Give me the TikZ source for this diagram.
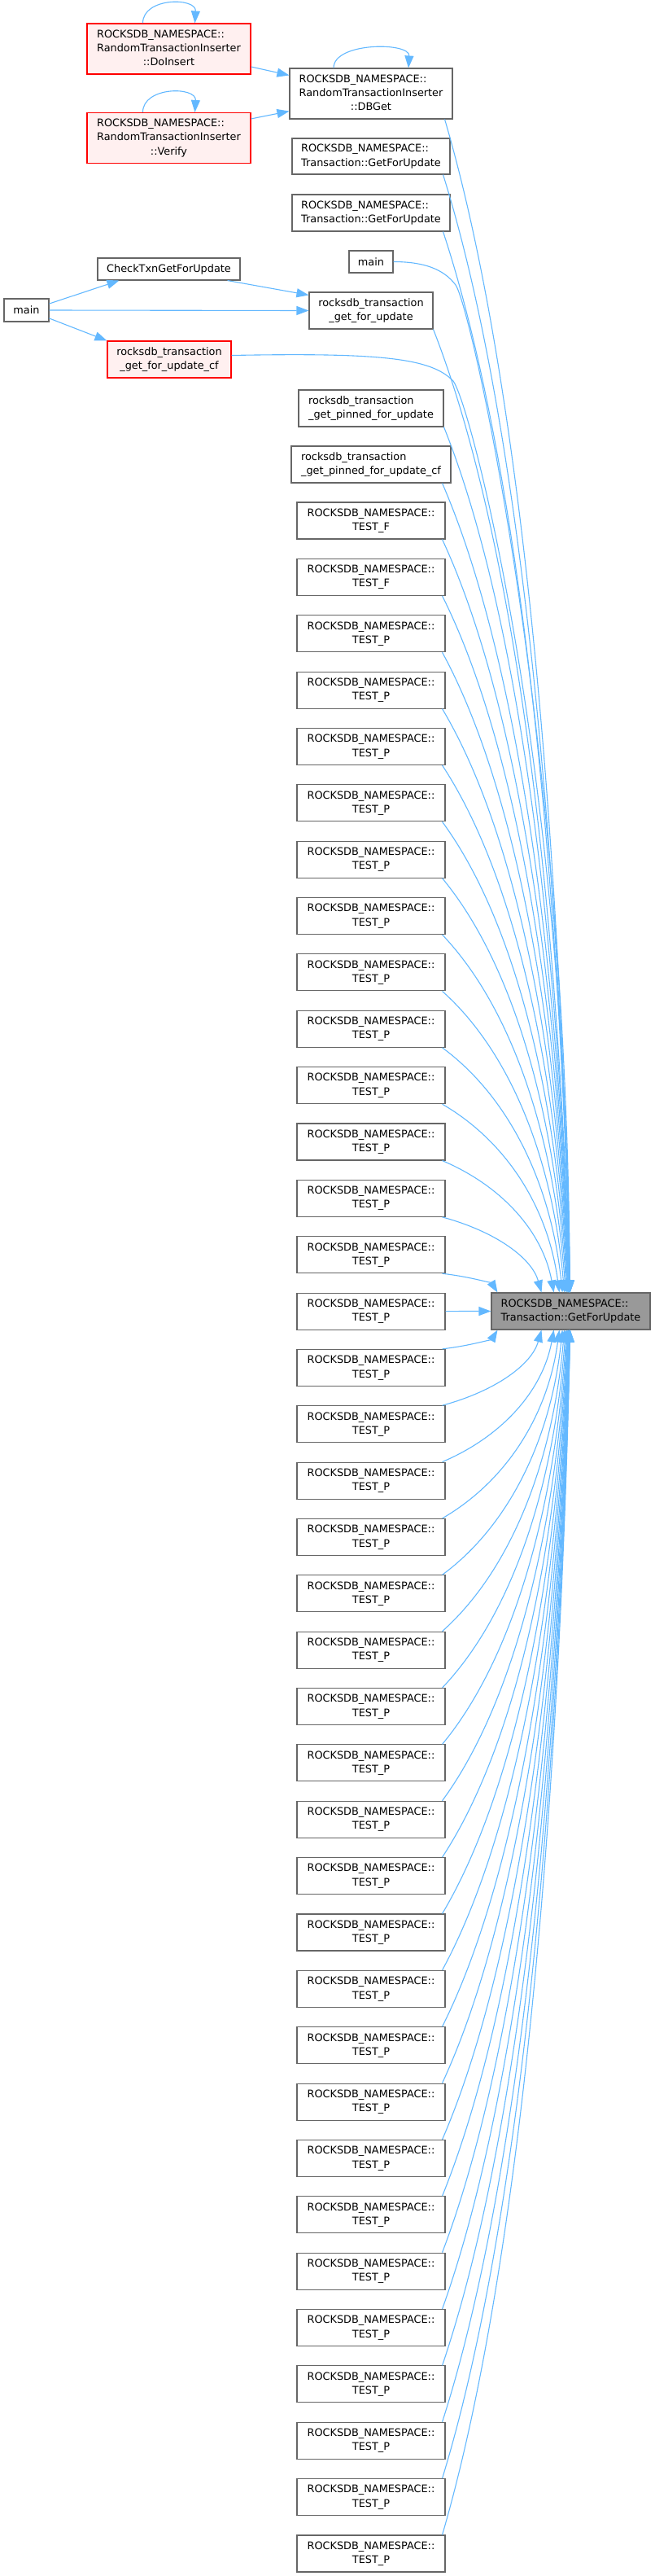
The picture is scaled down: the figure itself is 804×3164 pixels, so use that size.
\documentclass[tikz,border=0pt]{standalone}
\usepackage{fontspec}
\setmainfont{DejaVu Sans}
\usetikzlibrary{arrows.meta}

\definecolor{edgeblue}{HTML}{63B8FF}
\definecolor{grey40}{HTML}{666666}
\definecolor{grey60}{HTML}{999999}
\definecolor{redfill}{HTML}{FFF0F0}

% etichette: righe allineate a sinistra, ultima centrata
\newcommand{\twol}[2]{\begin{tabular}{@{}l@{}}#1\\\multicolumn{1}{@{}c@{}}{#2}\end{tabular}}
\newcommand{\threel}[3]{\begin{tabular}{@{}l@{}}#1\\#2\\\multicolumn{1}{@{}c@{}}{#3}\end{tabular}}

% ventaglio verso il nodo centrale (dall'alto / dal basso)
\newcommand{\fanin}[4]{%
  \pgfmathsetmacro\fxe{703-91/pow(#4,1.3)}%
  \pgfmathsetmacro\fex{\fxe-604}%
  \pgfmathsetmacro\fw{\fxe-#2}%
  \pgfmathsetmacro\fD{1588-#3}%
  \draw[edge] #1 .. controls ({#2+0.55*\fw},{#3+0.2*\fD}) and ({\fxe-0.1*\fw},{1588-0.45*\fD}) .. ([xshift=\fex pt]getforupdate.north west);}
\newcommand{\fanout}[4]{%
  \pgfmathsetmacro\fxe{703-91/pow(#4,1.3)}%
  \pgfmathsetmacro\fex{\fxe-604}%
  \pgfmathsetmacro\fw{\fxe-#2}%
  \pgfmathsetmacro\fD{#3-1633}%
  \draw[edge] #1 .. controls ({#2+0.55*\fw},{#3-0.2*\fD}) and ({\fxe-0.1*\fw},{1633+0.45*\fD}) .. ([xshift=\fex pt]getforupdate.south west);}

\begin{document}
\begin{tikzpicture}[
    x=1pt, y=-1pt,
    font=\fontsize{12.85}{17.3}\selectfont,
    fn/.style={draw=grey40, fill=white, line width=1.1pt, inner sep=0pt, minimum height=45pt},
    fnred/.style={fn, draw=red, fill=redfill},
    fnsel/.style={fn, fill=grey60},
    edge/.style={draw=edgeblue, line width=1.1pt, -{Triangle[length=15pt,width=11pt]}},
  ]
  \useasboundingbox (0,0) rectangle (804,3164);

  % --- colonna sinistra ---
  \node[fnred, minimum width=201pt, minimum height=62pt] (doinsert) at (207.5,60)
       {\threel{ROCKSDB\_NAMESPACE::}{RandomTransactionInserter}{::DoInsert}};
  \node[fnred, minimum width=201pt, minimum height=62pt] (verify) at (207.5,169.5)
       {\threel{ROCKSDB\_NAMESPACE::}{RandomTransactionInserter}{::Verify}};
  \node[fn, minimum width=175pt, minimum height=27pt] (checktxn) at (207.5,330.5) {CheckTxnGetForUpdate};
  \node[fn, minimum width=55pt, minimum height=28pt] (mainl) at (32.5,381) {main};
  \node[fnred, minimum width=152pt] (cgfucf) at (208,441.5)
       {\twol{rocksdb\_transaction}{\_get\_for\_update\_cf}};

  % --- colonna dei chiamanti ---
  \node[fn, minimum width=200pt, minimum height=62pt] (dbget) at (456,115)
       {\threel{ROCKSDB\_NAMESPACE::}{RandomTransactionInserter}{::DBGet}};
  \node[fn, minimum width=194pt, minimum height=44pt] (txngfu1) at (456,192)
       {\twol{ROCKSDB\_NAMESPACE::}{Transaction::GetForUpdate}};
  \node[fn, minimum width=194pt] (txngfu2) at (456,261.5)
       {\twol{ROCKSDB\_NAMESPACE::}{Transaction::GetForUpdate}};
  \node[fn, minimum width=54pt, minimum height=27pt] (mainr) at (456,321.5) {main};
  \node[fn, minimum width=152pt] (cgfu) at (456,381.5)
       {\twol{rocksdb\_transaction}{\_get\_for\_update}};
  \node[fn, minimum width=178pt] (cpinned) at (456,501.5)
       {\twol{rocksdb\_transaction}{\_get\_pinned\_for\_update}};
  \node[fn, minimum width=196pt] (cpinnedcf) at (456,570.5)
       {\twol{rocksdb\_transaction}{\_get\_pinned\_for\_update\_cf}};
  \foreach \row in {0,...,36}{
    \pgfmathsetmacro\yrow{639.5+69.36*\row}
    \ifnum\row<2 \def\tst{TEST\_F}\else\def\tst{TEST\_P}\fi
    \node[fn, minimum width=182pt] (t\row) at (456,\yrow)
         {\twol{ROCKSDB\_NAMESPACE::}{\tst}};
  }

  % --- nodo selezionato ---
  \node[fnsel, minimum width=195pt] (getforupdate) at (701.5,1610.5)
       {\twol{ROCKSDB\_NAMESPACE::}{Transaction::GetForUpdate}};

  % --- archi a sinistra e anelli ---
  \draw[edge] ([xshift=-32pt]doinsert.north) .. controls +(0,-32) and +(2,-32) .. ([xshift=32pt]doinsert.north);
  \draw[edge] ([xshift=-32pt]verify.north) .. controls +(0,-32) and +(2,-32) .. ([xshift=32pt]verify.north);
  \draw[edge] ([xshift=-46pt]dbget.north) .. controls +(0,-32) and +(2,-32) .. ([xshift=46pt]dbget.north);
  \draw[edge] ([yshift=-22pt]doinsert.east) -- ([yshift=-9pt]dbget.north west);
  \draw[edge] ([yshift=-8pt]verify.north east) -- ([yshift=10pt]dbget.south west);
  \draw[edge] ([yshift=8pt]mainl.east) -- ([xshift=27pt]checktxn.south west);
  \draw[edge] (mainl.east) -- (cgfu.west);
  \draw[edge] ([yshift=-10pt]mainl.east) -- (cgfucf.north west);
  \draw[edge] ([xshift=-16pt]checktxn.south east) -- ([yshift=-4pt]cgfu.north west);

  % --- ventaglio dall'alto ---
  \fanin{([xshift=-10pt]dbget.south east)}{546}{146}{22}
  \fanin{([xshift=-9pt]txngfu1.south east)}{544}{214}{21}
  \fanin{([xshift=-9pt]txngfu2.south east)}{544}{284}{20}
  \draw[edge] (mainr.east) .. controls (520,321.5) and (545,330) .. (560,350)
     .. controls (580,380) and (696,900) .. ([xshift=97pt]getforupdate.north west);
  \fanin{(cgfu.south east)}{532}{404}{18}
  \draw[edge] ([yshift=5pt]cgfucf.east) .. controls (470,433) and (530,440) .. (557,468)
     .. controls (580,500) and (695,950) .. ([xshift=96.7pt]getforupdate.north west);
  \fanin{(cpinned.south east)}{545}{524}{16}
  \fanin{([xshift=-11pt]cpinnedcf.south east)}{543}{593}{15}
  \foreach \row in {0,...,13}{
    \pgfmathsetmacro\ybot{662+69.36*\row}
    \pgfmathtruncatemacro\dist{14-\row}
    \fanin{([xshift=-4pt]t\row.south east)}{543}{\ybot}{\dist}
  }

  % --- stessa riga e ventaglio dal basso ---
  \draw[edge] (t14.east) -- (getforupdate.west);
  \foreach \row in {15,...,36}{
    \pgfmathsetmacro\ytop{617+69.36*\row}
    \pgfmathtruncatemacro\dist{\row-14}
    \fanout{([xshift=-4pt]t\row.north east)}{543}{\ytop}{\dist}
  }

\end{tikzpicture}
\end{document}
